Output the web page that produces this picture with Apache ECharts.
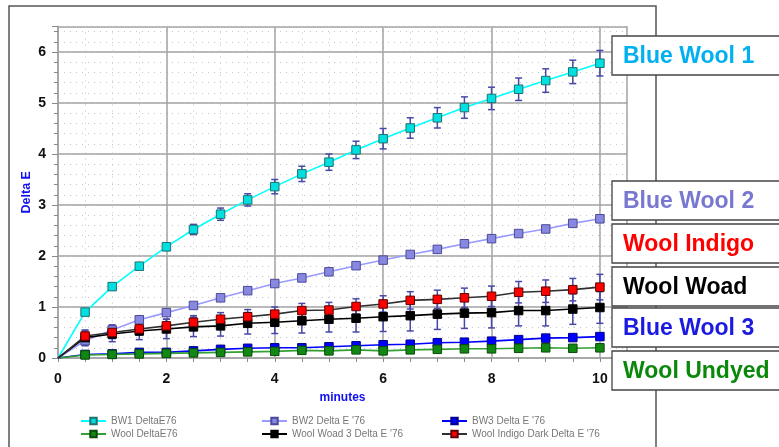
<!DOCTYPE html>
<html><head><meta charset="utf-8">
<script src="https://cdn.jsdelivr.net/npm/echarts@6/dist/echarts.min.js"></script>
<style>html,body{margin:0;padding:0;background:#fff}#c{width:779px;height:447px}</style>
</head><body><div id="c"></div>
<script>
const minutes = [0,0.5,1,1.5,2,2.5,3,3.5,4,4.5,5,5.5,6,6.5,7,7.5,8,8.5,9,9.5,10];
const bw1 = [0,0.9,1.4,1.8,2.18,2.52,2.82,3.1,3.36,3.61,3.84,4.08,4.3,4.51,4.71,4.91,5.09,5.27,5.44,5.61,5.78];
const bw1Err = [0,0.04,0.05,0.05,0.07,0.1,0.12,0.12,0.14,0.15,0.16,0.17,0.2,0.2,0.2,0.21,0.22,0.22,0.23,0.23,0.25];
const bw2 = [0,0.34,0.55,0.75,0.89,1.03,1.18,1.32,1.46,1.57,1.69,1.81,1.92,2.03,2.13,2.24,2.34,2.44,2.53,2.64,2.73];
const bw2Err = [0,0.1,0.1,0.06,0.05,0.05,0.05,0.05,0.05,0.05,0.05,0.05,0.05,0.05,0.05,0.05,0.05,0.05,0.06,0.06,0.07];
const bw3 = [0,0.07,0.08,0.11,0.11,0.14,0.17,0.19,0.2,0.2,0.22,0.24,0.26,0.27,0.3,0.31,0.33,0.36,0.39,0.4,0.42];
const bw3Err = [0,0.03,0.03,0.03,0.03,0.03,0.03,0.03,0.03,0.03,0.03,0.03,0.04,0.04,0.04,0.04,0.04,0.04,0.04,0.04,0.05];
const wool = [0,0.06,0.07,0.08,0.09,0.1,0.11,0.12,0.13,0.15,0.14,0.16,0.14,0.16,0.17,0.18,0.18,0.19,0.2,0.19,0.2];
const woolErr = [0,0.02,0.02,0.02,0.02,0.02,0.02,0.02,0.02,0.02,0.02,0.02,0.02,0.02,0.02,0.02,0.02,0.02,0.02,0.02,0.02];
const woad = [0,0.4,0.47,0.53,0.57,0.61,0.63,0.68,0.7,0.73,0.76,0.78,0.81,0.83,0.86,0.88,0.89,0.93,0.93,0.96,0.99];
const woadErr = [0,0.15,0.15,0.17,0.19,0.19,0.2,0.21,0.22,0.24,0.25,0.27,0.29,0.3,0.3,0.3,0.3,0.3,0.3,0.3,0.31];
const indigo = [0,0.43,0.5,0.57,0.63,0.7,0.76,0.81,0.86,0.93,0.94,1.01,1.06,1.13,1.15,1.18,1.21,1.29,1.31,1.34,1.39];
const indigoErr = [0,0.1,0.12,0.12,0.13,0.13,0.13,0.14,0.14,0.14,0.15,0.15,0.16,0.17,0.18,0.19,0.2,0.21,0.22,0.22,0.25];
const seriesNames = ["BW1 DeltaE76","BW2 Delta E '76","BW3 Delta E '76","Wool DeltaE76","Wool Woad 3 Delta E '76","Wool Indigo Dark Delta E '76"];
const boxLabels = ["Blue Wool 1","Blue Wool 2","Wool Indigo","Wool Woad","Blue Wool 3","Wool Undyed"];
const boxColors = ["#00b0f0","#7878d0","#ff0000","#000000","#1a1ae0","#0a880a"];
const boxTops = [36,181,224,267,308,351];

const chart = echarts.init(document.getElementById('c'));
const pairs = ys => minutes.map((x,i)=> (i===0 ? {value:[x, ys[i]], symbol:'none'} : [x, ys[i]]));
const errData = (ys, es) => minutes.map((x,i)=>[x, ys[i]-es[i], ys[i]+es[i]]);

const styles = [
  {data:bw1, err:bw1Err, line:'#00ffff', fill:'#00e0e0', border:'#207070'},
  {data:bw2, err:bw2Err, line:'#9a9aff', fill:'#8888e0', border:'#4a4a9a'},
  {data:bw3, err:bw3Err, line:'#0000ff', fill:'#0000ff', border:'#00008a'},
  {data:wool, err:woolErr, line:'#33a033', fill:'#118811', border:'#0a4a0a'},
  {data:woad, err:woadErr, line:'#000000', fill:'#000000', border:'#000000'},
  {data:indigo, err:indigoErr, line:'#303030', fill:'#ff0000', border:'#600000'}
];

const series = [];
styles.forEach((s,k)=>{
  series.push({
    type:'custom', xAxisIndex:0, yAxisIndex:0, z:2, silent:true,
    data: errData(s.data, s.err).slice(1),
    renderItem: (params, api) => {
      const x = api.value(0);
      const lo = api.coord([x, api.value(1)]);
      const hi = api.coord([x, api.value(2)]);
      const st = {stroke:'#4848a8', lineWidth:1.5};
      return {type:'group', children:[
        {type:'line', shape:{x1:lo[0],y1:lo[1],x2:hi[0],y2:hi[1]}, style:st},
        {type:'line', shape:{x1:lo[0]-3.5,y1:lo[1],x2:lo[0]+3.5,y2:lo[1]}, style:st},
        {type:'line', shape:{x1:hi[0]-3.5,y1:hi[1],x2:hi[0]+3.5,y2:hi[1]}, style:st}
      ]};
    }
  });
});
styles.forEach((s,k)=>{
  series.push({
    name: seriesNames[k], type:'line', xAxisIndex:0, yAxisIndex:0, z:3,
    data: pairs(s.data), symbol:'rect', symbolSize:8.5, showAllSymbol:true,
    lineStyle:{color:s.line, width:1.6},
    itemStyle:{color:s.fill, borderColor:s.border, borderWidth:1},
    emphasis:{disabled:true}, animation:false
  });
});

const graphics = [
  {type:'rect', shape:{x:9, y:6, width:647, height:470}, style:{fill:'none', stroke:'#555', lineWidth:1.5}, z:0}
];
boxLabels.forEach((t,i)=>{
  graphics.push({type:'rect', shape:{x:612, y:boxTops[i], width:200, height:39}, style:{fill:'#fff', stroke:'#444', lineWidth:1.3}, z:50});
  graphics.push({type:'text', x:623, y:boxTops[i]+20.5, style:{text:t, fill:boxColors[i], font:'bold 23px Arial, "Liberation Sans", sans-serif', textVerticalAlign:'middle'}, z:51});
});

const legendCommon = {orient:'vertical', itemWidth:25, itemHeight:8, itemGap:3, textStyle:{color:'#777', fontSize:10, fontFamily:'Arial, "Liberation Sans", sans-serif'}, selectedMode:false};

chart.setOption({
  animation:false,
  grid:{left:58, top:26.5, right:152, bottom:89, containLabel:false},
  xAxis:[
    {type:'value', min:0, max:10.5, interval:2, position:'bottom',
     axisLine:{show:true, onZero:false, lineStyle:{color:'#999', width:1.5}},
     axisTick:{show:false},
     axisLabel:{margin:14, color:'#111', fontWeight:'bold', fontSize:14, fontFamily:'Arial, "Liberation Sans", sans-serif', formatter:v=> (v%2===0 ? String(v) : '')},
     splitLine:{show:true, lineStyle:{color:'#a0a0a0', width:1.5}},
     name:'minutes', nameLocation:'middle', nameGap:34, nameMoveOverlap:false,
     nameTextStyle:{color:'#1010f0', fontWeight:'bold', fontSize:12, fontFamily:'Arial, "Liberation Sans", sans-serif'}},
    {type:'value', min:0, max:10.5, interval:0.5, position:'top',
     axisLine:{show:true, lineStyle:{color:'#aaa', width:1.5}},
     axisTick:{show:true, inside:true, length:4, lineStyle:{color:'#999'}},
     axisLabel:{show:false},
     splitLine:{show:true, lineStyle:{color:'#c4c4c4', width:1, type:[1,5]}}},
    {type:'value', min:0, max:10.5, interval:0.5, position:'bottom',
     axisLine:{show:false},
     axisTick:{show:true, inside:false, length:4, lineStyle:{color:'#888'}},
     axisLabel:{show:false}, splitLine:{show:false}}
  ],
  yAxis:[
    {type:'value', min:0, max:6.5, interval:1, position:'left',
     axisLine:{show:true, onZero:false, lineStyle:{color:'#999', width:1.5}},
     axisTick:{show:true, length:6, lineStyle:{color:'#888'}},
     axisLabel:{margin:12, color:'#111', fontWeight:'bold', fontSize:14, fontFamily:'Arial, "Liberation Sans", sans-serif', formatter:v=> (v%1===0 ? String(v) : '')},
     splitLine:{show:true, lineStyle:{color:'#a0a0a0', width:1.5}},
     name:'Delta E', nameLocation:'middle', nameGap:25, nameRotate:90, nameMoveOverlap:false,
     nameTextStyle:{color:'#1010f0', fontWeight:'bold', fontSize:12.5, fontFamily:'Arial, "Liberation Sans", sans-serif'}},
    {type:'value', min:0, max:6.5, interval:0.2, position:'right',
     axisLine:{show:true, lineStyle:{color:'#aaa', width:1.5}},
     axisTick:{show:true, inside:true, length:4, lineStyle:{color:'#999'}},
     axisLabel:{show:false},
     splitLine:{show:true, lineStyle:{color:'#c4c4c4', width:1, type:[1,5]}}},
    {type:'value', min:0, max:6.5, interval:0.2, position:'left',
     axisLine:{show:false},
     axisTick:{show:true, inside:false, length:4, lineStyle:{color:'#888'}},
     axisLabel:{show:false}, splitLine:{show:false}}
  ],
  legend:[
    Object.assign({left:75, top:411, data:[seriesNames[0], seriesNames[3]]}, legendCommon),
    Object.assign({left:256, top:411, data:[seriesNames[1], seriesNames[4]]}, legendCommon),
    Object.assign({left:436, top:411, data:[seriesNames[2], seriesNames[5]]}, legendCommon)
  ],
  series: series,
  graphic: graphics
});
</script>
</body></html>
